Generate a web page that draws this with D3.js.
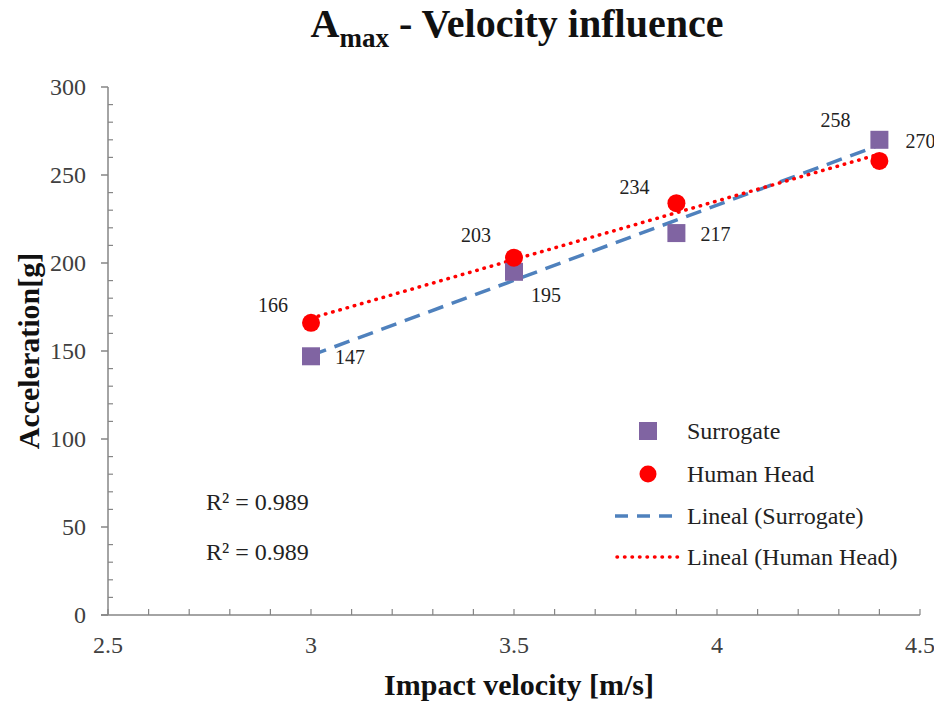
<!DOCTYPE html>
<html><head><meta charset="utf-8">
<script src="https://cdn.jsdelivr.net/npm/d3@7"></script>
<style>body{margin:0;background:#fff}svg{display:block}text{font-family:"Liberation Serif","Times New Roman",serif}</style>
</head><body><svg id="c" width="934" height="706"></svg>
<script>
const velocities = [3, 3.5, 3.9, 4.4];
const surrogate = [147, 195, 217, 270];
const humanHead = [166, 203, 234, 258];
const xTicks = [2.5, 3, 3.5, 4, 4.5];
const yTicks = [0, 50, 100, 150, 200, 250, 300];
const r2Labels = ["R² = 0.989", "R² = 0.989"];
const legendLabels = ["Surrogate", "Human Head", "Lineal (Surrogate)", "Lineal (Human Head)"];

const svg = d3.select("#c");
const x = d3.scaleLinear().domain([2.5, 4.5]).range([108, 920]);
const y = d3.scaleLinear().domain([0, 300]).range([615, 87]);
const axisCol = "#868686", textCol = "#404040", labCol = "#222";

// title
const t = svg.append("text").attr("x", 517).attr("y", 37).attr("text-anchor", "middle")
  .attr("font-size", 40).attr("font-weight", "bold").attr("fill", "#111");
t.append("tspan").text("A");
t.append("tspan").attr("font-size", 27).attr("dy", 10).text("max");
t.append("tspan").attr("dy", -10).text(" - Velocity influence");

// y axis
const yMinor = d3.range(0, 301, 10).filter(v => v % 50 !== 0);
svg.append("line").attr("x1", x(2.5)).attr("x2", x(2.5)).attr("y1", y(300)).attr("y2", y(0)).attr("stroke", axisCol).attr("stroke-width", 1.5);
svg.selectAll(".ymaj").data(yTicks).join("line").attr("x1", x(2.5) - 7).attr("x2", x(2.5)).attr("y1", d => y(d)).attr("y2", d => y(d)).attr("stroke", axisCol).attr("stroke-width", 1.5);
svg.selectAll(".ymin").data(yMinor).join("line").attr("x1", x(2.5)).attr("x2", x(2.5) + 5).attr("y1", d => y(d)).attr("y2", d => y(d)).attr("stroke", axisCol).attr("stroke-width", 1.2);
svg.selectAll(".ylab").data(yTicks).join("text").attr("x", 86).attr("y", d => y(d) + 8).attr("text-anchor", "end")
  .attr("font-size", 24).attr("fill", textCol).text(d => d);

// x axis
const xMinor = d3.range(25, 46, 1).map(v => v / 10);
svg.append("line").attr("x1", x(2.5) - 7).attr("x2", x(4.5)).attr("y1", y(0)).attr("y2", y(0)).attr("stroke", axisCol).attr("stroke-width", 1.5);
svg.selectAll(".xmin").data(xMinor).join("line").attr("x1", d => x(d)).attr("x2", d => x(d)).attr("y1", y(0)).attr("y2", y(0) - 6).attr("stroke", axisCol).attr("stroke-width", 1.2);
svg.selectAll(".xlab").data(xTicks).join("text").attr("x", d => x(d)).attr("y", 653).attr("text-anchor", "middle")
  .attr("font-size", 24).attr("fill", textCol).text(d => d);

// axis titles
svg.append("text").attr("x", 519).attr("y", 695).attr("text-anchor", "middle").attr("font-size", 30).attr("font-weight", "bold").attr("fill", "#111").text("Impact velocity [m/s]");
svg.append("text").attr("transform", "translate(39,351) rotate(-90)").attr("text-anchor", "middle").attr("font-size", 30).attr("font-weight", "bold").attr("fill", "#111").text("Acceleration[g]");

// linear regression trend lines
function fit(xs, ys) {
  const mx = d3.mean(xs), my = d3.mean(ys);
  const sxy = d3.sum(xs, (v, i) => (v - mx) * (ys[i] - my));
  const sxx = d3.sum(xs, v => (v - mx) ** 2);
  const b = sxy / sxx, a = my - b * mx;
  const x0 = d3.min(xs), x1 = d3.max(xs);
  return [[x0, a + b * x0], [x1, a + b * x1]];
}
const line = d3.line().x(d => x(d[0])).y(d => y(d[1]));
svg.append("path").attr("d", line(fit(velocities, surrogate))).attr("stroke", "#4F81BD").attr("stroke-width", 3.5).attr("fill", "none").attr("stroke-dasharray", "16,9");
svg.append("path").attr("d", line(fit(velocities, humanHead))).attr("stroke", "#FF0000").attr("stroke-width", 3.5).attr("fill", "none").attr("stroke-dasharray", "0.5,7").attr("stroke-linecap", "round");

// markers
const sq = 18;
svg.selectAll(".sq").data(velocities).join("rect").attr("x", (d) => x(d) - sq / 2).attr("y", (d, i) => y(surrogate[i]) - sq / 2)
  .attr("width", sq).attr("height", sq).attr("fill", "#8064A2");
svg.selectAll(".ci").data(velocities).join("circle").attr("cx", d => x(d)).attr("cy", (d, i) => y(humanHead[i])).attr("r", 9).attr("fill", "#FF0000");

// data labels
const sOff = [[24, 8], [17, 30], [24, 8], [26, 8]];
const hOff = [[-23, -11], [-23, -16], [-27, -9], [-29, -34]];
svg.selectAll(".sl").data(velocities).join("text").attr("x", (d, i) => x(d) + sOff[i][0]).attr("y", (d, i) => y(surrogate[i]) + sOff[i][1])
  .attr("font-size", 20).attr("fill", labCol).text((d, i) => surrogate[i]);
svg.selectAll(".hl").data(velocities).join("text").attr("x", (d, i) => x(d) + hOff[i][0]).attr("y", (d, i) => y(humanHead[i]) + hOff[i][1])
  .attr("text-anchor", "end").attr("font-size", 20).attr("fill", labCol).text((d, i) => humanHead[i]);

// R² labels
svg.selectAll(".r2").data(r2Labels).join("text").attr("x", 206).attr("y", (d, i) => 510 + i * 50).attr("font-size", 24).attr("fill", labCol).text(d => d);

// legend
const lg = svg.append("g");
const ly = [431, 474, 516, 557];
lg.append("rect").attr("x", 639).attr("y", ly[0] - 9).attr("width", 18).attr("height", 18).attr("fill", "#8064A2");
lg.append("circle").attr("cx", 648).attr("cy", ly[1]).attr("r", 8.5).attr("fill", "#FF0000");
lg.append("line").attr("x1", 615).attr("x2", 680).attr("y1", ly[2]).attr("y2", ly[2]).attr("stroke", "#4F81BD").attr("stroke-width", 3.5).attr("stroke-dasharray", "13,9");
lg.append("line").attr("x1", 617).attr("x2", 678).attr("y1", ly[3]).attr("y2", ly[3]).attr("stroke", "#FF0000").attr("stroke-width", 3.5).attr("stroke-dasharray", "0.5,7").attr("stroke-linecap", "round");
lg.selectAll(".lt").data(legendLabels).join("text").attr("x", 687).attr("y", (d, i) => ly[i] + 8).attr("font-size", 24).attr("fill", labCol).text(d => d);
</script></body></html>
